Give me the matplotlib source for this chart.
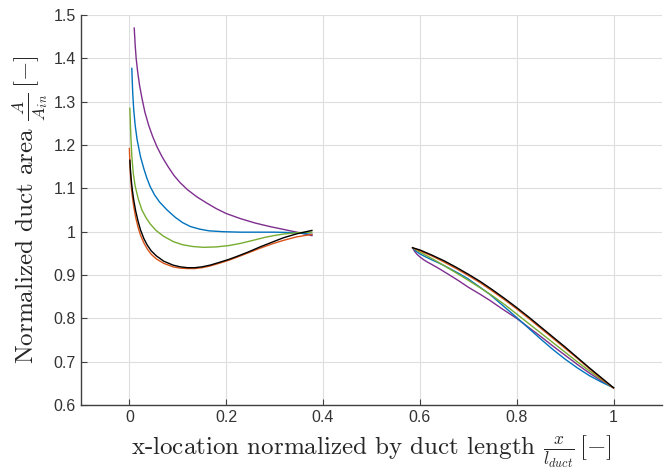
import numpy as np
import matplotlib
matplotlib.use("Agg")
import matplotlib.pyplot as plt

plt.rcParams['mathtext.fontset'] = 'cm'

# Section amont (x de 0 a ~0.38)
x_purple_1 = [0.010, 0.012, 0.014, 0.017, 0.021, 0.026, 0.032, 0.040, 0.048, 0.057, 0.068, 0.080, 0.092,
              0.105, 0.120, 0.140, 0.160, 0.180, 0.200, 0.230, 0.260, 0.290, 0.320, 0.350, 0.377]
y_purple_1 = [1.470, 1.430, 1.400, 1.370, 1.338, 1.308, 1.276, 1.245, 1.220, 1.196, 1.172, 1.150, 1.130,
              1.113, 1.097, 1.080, 1.066, 1.053, 1.042, 1.030, 1.020, 1.012, 1.005, 0.998, 0.991]

x_blue_1 = [0.005, 0.006, 0.007, 0.009, 0.012, 0.016, 0.023, 0.030, 0.036, 0.043, 0.052, 0.062, 0.078,
            0.095, 0.110, 0.126, 0.145, 0.165, 0.195, 0.230, 0.263, 0.300, 0.340, 0.377]
y_blue_1 = [1.377, 1.345, 1.318, 1.281, 1.245, 1.212, 1.173, 1.145, 1.124, 1.104, 1.085, 1.069, 1.050,
            1.033, 1.021, 1.012, 1.006, 1.002, 1.000, 0.999, 0.999, 0.999, 0.998, 0.994]

x_green_1 = [0.001, 0.002, 0.003, 0.005, 0.008, 0.012, 0.019, 0.026, 0.034, 0.043, 0.055, 0.070, 0.091,
             0.110, 0.130, 0.153, 0.180, 0.205, 0.229, 0.255, 0.280, 0.298, 0.320, 0.350, 0.377]
y_green_1 = [1.285, 1.250, 1.220, 1.175, 1.135, 1.105, 1.073, 1.050, 1.033, 1.018, 1.003, 0.990, 0.977,
             0.970, 0.966, 0.964, 0.965, 0.968, 0.973, 0.980, 0.987, 0.991, 0.995, 0.998, 0.999]

x_orange_1 = [0.000, 0.001, 0.002, 0.004, 0.006, 0.009, 0.013, 0.018, 0.023, 0.030, 0.037, 0.045, 0.056,
              0.071, 0.090, 0.105, 0.120, 0.135, 0.150, 0.167, 0.185, 0.205, 0.222, 0.245, 0.270, 0.295,
              0.318, 0.345, 0.377]
y_orange_1 = [1.192, 1.160, 1.135, 1.104, 1.082, 1.058, 1.033, 1.010, 0.992, 0.974, 0.960, 0.948, 0.937,
              0.927, 0.919, 0.916, 0.915, 0.915, 0.917, 0.921, 0.927, 0.934, 0.941, 0.951, 0.962, 0.972,
              0.980, 0.988, 0.994]

x_black_1 = [0.001, 0.002, 0.004, 0.006, 0.009, 0.013, 0.018, 0.023, 0.030, 0.037, 0.045, 0.056, 0.071,
             0.090, 0.105, 0.120, 0.135, 0.150, 0.167, 0.185, 0.205, 0.222, 0.245, 0.270, 0.295, 0.318,
             0.345, 0.377]
y_black_1 = [1.165, 1.145, 1.118, 1.097, 1.073, 1.048, 1.024, 1.004, 0.984, 0.969, 0.956, 0.944, 0.932,
             0.923, 0.919, 0.917, 0.917, 0.919, 0.923, 0.929, 0.936, 0.943, 0.953, 0.965, 0.976, 0.986,
             0.995, 1.003]

# Section aval (x de ~0.585 a 1)
x_purple_2 = [0.585, 0.589, 0.594, 0.600, 0.607, 0.614, 0.627, 0.641, 0.660, 0.680, 0.700, 0.724, 0.744,
              0.770, 0.800, 0.825, 0.850, 0.875, 0.900, 0.925, 0.950, 0.975, 1.000]
y_purple_2 = [0.963, 0.955, 0.948, 0.942, 0.936, 0.931, 0.923, 0.914, 0.901, 0.887, 0.872, 0.856, 0.842,
              0.822, 0.800, 0.779, 0.758, 0.736, 0.715, 0.694, 0.674, 0.656, 0.640]

x_blue_2 = [0.585, 0.592, 0.600, 0.610, 0.625, 0.641, 0.660, 0.680, 0.700, 0.724, 0.744, 0.770, 0.800,
            0.825, 0.850, 0.875, 0.900, 0.925, 0.950, 0.975, 1.000]
y_blue_2 = [0.963, 0.955, 0.949, 0.943, 0.935, 0.927, 0.916, 0.904, 0.891, 0.872, 0.856, 0.831, 0.802,
            0.777, 0.752, 0.728, 0.706, 0.686, 0.668, 0.653, 0.640]

x_green_2 = [0.585, 0.600, 0.625, 0.650, 0.675, 0.700, 0.724, 0.750, 0.775, 0.800, 0.825, 0.850, 0.875,
             0.900, 0.925, 0.950, 0.975, 1.000]
y_green_2 = [0.963, 0.953, 0.938, 0.922, 0.905, 0.888, 0.871, 0.852, 0.832, 0.810, 0.788, 0.766, 0.744,
             0.722, 0.700, 0.679, 0.659, 0.640]

x_orange_2 = [0.585, 0.600, 0.625, 0.650, 0.675, 0.700, 0.725, 0.750, 0.775, 0.800, 0.825, 0.850, 0.875,
              0.900, 0.925, 0.950, 0.975, 1.000]
y_orange_2 = [0.963, 0.956, 0.944, 0.930, 0.915, 0.899, 0.882, 0.863, 0.843, 0.822, 0.800, 0.777, 0.754,
              0.731, 0.708, 0.684, 0.661, 0.639]

x_black_2 = [0.585, 0.600, 0.625, 0.650, 0.675, 0.700, 0.725, 0.750, 0.775, 0.800, 0.825, 0.850, 0.875,
             0.900, 0.925, 0.950, 0.975, 1.000]
y_black_2 = [0.963, 0.958, 0.946, 0.933, 0.918, 0.902, 0.885, 0.866, 0.846, 0.825, 0.803, 0.780, 0.757,
             0.734, 0.710, 0.686, 0.663, 0.640]

series = [
    ("#7E2F8E", x_purple_1, y_purple_1, x_purple_2, y_purple_2),
    ("#0072BD", x_blue_1, y_blue_1, x_blue_2, y_blue_2),
    ("#77AC30", x_green_1, y_green_1, x_green_2, y_green_2),
    ("#D95319", x_orange_1, y_orange_1, x_orange_2, y_orange_2),
    ("black", x_black_1, y_black_1, x_black_2, y_black_2),
]

fig = plt.figure(figsize=(6.72, 4.71), dpi=100)
ax = fig.add_axes([0.1205, 0.140, 0.8645, 0.828])

for c, xa, ya, xb, yb in series:
    ax.plot(xa, ya, color=c, lw=1.0)
    ax.plot(xb, yb, color=c, lw=1.0)

ax.set_xlim(-0.1, 1.1)
ax.set_ylim(0.6, 1.5)
ax.set_xticks(np.arange(0, 1.01, 0.2))
ax.set_xticklabels(["0", "0.2", "0.4", "0.6", "0.8", "1"])
ax.set_yticks(np.arange(0.6, 1.51, 0.1))
ax.set_yticklabels(["0.6", "0.7", "0.8", "0.9", "1", "1.1", "1.2", "1.3", "1.4", "1.5"])

ax.grid(True, color="#dedede", lw=0.8)
ax.set_axisbelow(True)
for s in ["top", "right"]:
    ax.spines[s].set_visible(False)
for s in ["left", "bottom"]:
    ax.spines[s].set_color("#404040")
    ax.spines[s].set_linewidth(1.0)
ax.tick_params(direction="in", length=4, width=0.8, color="#404040",
               labelsize=11.5, labelcolor="#333333")
for lab in ax.get_xticklabels() + ax.get_yticklabels():
    lab.set_fontfamily("Liberation Sans")

ax.set_xlabel(r"x-location normalized by duct length $\frac{x}{l_{duct}}\,[-]$",
              fontfamily="cmr10", fontsize=18, labelpad=6, color="#262626")
ax.set_ylabel(r"Normalized duct area $\frac{A}{A_{in}}\,[-]$",
              fontfamily="cmr10", fontsize=18, labelpad=3, color="#262626")

fig.savefig("out.png", dpi=100)
